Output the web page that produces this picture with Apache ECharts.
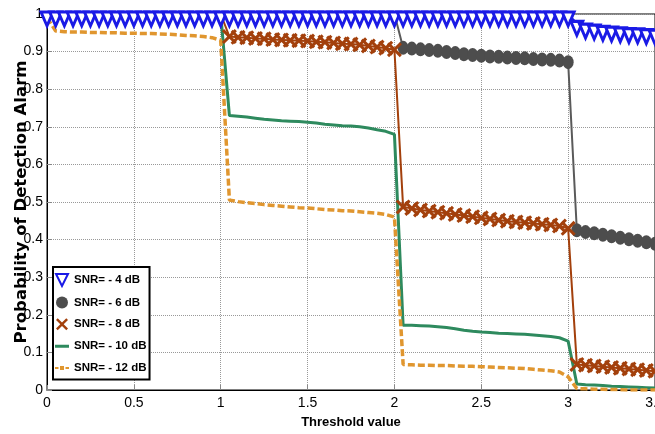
<!DOCTYPE html>
<html>
<head>
<meta charset="utf-8">
<script src="https://cdn.jsdelivr.net/npm/echarts@6/dist/echarts.min.js"></script>
<style>
  html, body { margin: 0; padding: 0; background: #fff; }
  #chart { width: 655px; height: 434px; }
</style>
</head>
<body>
<div id="chart"></div>
<script>
// threshold values on the x axis
var thresholds = [0, 0.05, 0.1, 0.15, 0.2, 0.25, 0.3, 0.35, 0.4, 0.45,
  0.5, 0.55, 0.6, 0.65, 0.7, 0.75, 0.8, 0.85, 0.9, 0.95,
  1, 1.05, 1.1, 1.15, 1.2, 1.25, 1.3, 1.35, 1.4, 1.45,
  1.5, 1.55, 1.6, 1.65, 1.7, 1.75, 1.8, 1.85, 1.9, 1.95,
  2, 2.05, 2.1, 2.15, 2.2, 2.25, 2.3, 2.35, 2.4, 2.45,
  2.5, 2.55, 2.6, 2.65, 2.7, 2.75, 2.8, 2.85, 2.9, 2.95,
  3, 3.05, 3.1, 3.15, 3.2, 3.25, 3.3, 3.35, 3.4, 3.45,
  3.5]

var snr4 = [1, 1, 1, 1, 1, 1, 1, 1, 1, 1,
  1, 1, 1, 1, 1, 1, 1, 1, 1, 1,
  1, 1, 1, 1, 1, 1, 1, 1, 1, 1,
  1, 1, 1, 1, 1, 1, 1, 1, 1, 1,
  1, 1, 1, 1, 1, 1, 1, 1, 1, 1,
  1, 1, 1, 1, 1, 1, 1, 1, 1, 1,
  1, 0.975, 0.968, 0.965, 0.962, 0.96, 0.958, 0.956, 0.955, 0.953,
  0.952]

var snr6 = [1, 1, 1, 1, 1, 1, 1, 1, 1, 1,
  1, 1, 1, 1, 1, 1, 1, 1, 1, 1,
  1, 1, 1, 1, 1, 1, 1, 1, 1, 1,
  1, 1, 1, 1, 1, 1, 1, 1, 1, 1,
  1, 0.91, 0.908, 0.906, 0.904, 0.902, 0.899, 0.896, 0.893, 0.891,
  0.889, 0.887, 0.886, 0.884, 0.883, 0.882, 0.88, 0.879, 0.878, 0.876,
  0.872, 0.425, 0.42, 0.417, 0.413, 0.409, 0.405, 0.401, 0.397, 0.393,
  0.389]

var snr8 = [1, 1, 1, 1, 1, 1, 1, 1, 1, 1,
  1, 1, 1, 1, 1, 1, 1, 1, 1, 1,
  1, 0.94, 0.938, 0.937, 0.935, 0.934, 0.932, 0.931, 0.93, 0.929,
  0.928, 0.926, 0.925, 0.923, 0.921, 0.92, 0.918, 0.915, 0.912, 0.909,
  0.905, 0.487, 0.483, 0.479, 0.476, 0.473, 0.47, 0.467, 0.464, 0.461,
  0.458, 0.455, 0.452, 0.449, 0.447, 0.445, 0.443, 0.441, 0.439, 0.436,
  0.43, 0.068, 0.066, 0.064, 0.062, 0.06, 0.058, 0.056, 0.054, 0.052,
  0.05]

var snr10 = [1, 1, 1, 1, 1, 1, 1, 1, 1, 1,
  1, 1, 1, 1, 1, 1, 1, 1, 1, 1,
  1, 0.73, 0.728, 0.726, 0.723, 0.72, 0.718, 0.716, 0.715, 0.714,
  0.712, 0.71, 0.707, 0.705, 0.703, 0.702, 0.7, 0.697, 0.692, 0.688,
  0.68, 0.172, 0.172, 0.171, 0.17, 0.168, 0.166, 0.163, 0.159, 0.156,
  0.154, 0.153, 0.151, 0.15, 0.149, 0.148, 0.146, 0.144, 0.142, 0.139,
  0.13, 0.016, 0.014, 0.013, 0.012, 0.01, 0.009, 0.008, 0.007, 0.006,
  0.005]

var snr12 = [0.99, 0.955, 0.953, 0.952, 0.952, 0.951, 0.951, 0.95, 0.95, 0.949,
  0.949, 0.948, 0.948, 0.947, 0.946, 0.945, 0.943, 0.942, 0.94, 0.937,
  0.93, 0.505, 0.501, 0.498, 0.496, 0.493, 0.491, 0.489, 0.487, 0.485,
  0.484, 0.482, 0.48, 0.479, 0.477, 0.476, 0.474, 0.472, 0.47, 0.467,
  0.46, 0.068, 0.067, 0.066, 0.066, 0.065, 0.065, 0.064, 0.063, 0.063,
  0.062, 0.061, 0.06, 0.059, 0.058, 0.057, 0.055, 0.053, 0.051, 0.048,
  0.035, 0.004, 0.003, 0.002, 0.002, 0.001, 0.001, 0, 0, 0,
  0]

var seriesNames = ['SNR= - 4 dB', 'SNR= - 6 dB', 'SNR= - 8 dB', 'SNR= - 10 dB', 'SNR= - 12 dB']

var narrow = '"Liberation Sans Narrow", "Liberation Sans", Arial, sans-serif'
var crossPath = 'path://M0,2L2,0L7,5L12,0L14,2L9,7L14,12L12,14L7,9L2,14L0,12L5,7Z'
var triPath = 'path://M0,0L12,0L6,12Z'
// legend glyphs: tiny corner specks keep the bounding box at 14x12 so the bars are not stretched
var greenIcon = 'path://M0,0L0.1,0L0,0.1Z M0,5L14,5L14,8L0,8Z M14,12L13.9,12L14,11.9Z'
var orangeIcon = 'path://M0,0L0.1,0L0,0.1Z M0,5.5L3.5,5.5L3.5,7.5L0,7.5Z M5,4.5L9,4.5L9,8.5L5,8.5Z M10.5,5.5L14,5.5L14,7.5L10.5,7.5Z M14,12L13.9,12L14,11.9Z'

function pairs(ys) {
  return thresholds.map(function (x, i) { return [x, ys[i]] })
}

// markers sitting on the p=1 line are hidden under the -4 dB triangles
function hideAtOne(sym) {
  return function (v) { return v[1] >= 1 ? 'none' : sym }
}

var chart = echarts.init(document.getElementById('chart'))

chart.setOption({
  backgroundColor: '#fff',
  animation: false,
  grid: {
    left: 47,
    right: 0,
    top: 14,
    bottom: 44,
    containLabel: false,
    outerBoundsMode: 'none',
    show: true,
    borderColor: '#000',
    borderWidth: 1
  },
  legend: {
    orient: 'vertical',
    left: 53,
    top: 267,
    backgroundColor: '#fff',
    borderColor: '#000',
    borderWidth: 2,
    borderRadius: 0,
    padding: [6, 3, 6, 2],
    itemWidth: 14,
    itemHeight: 12,
    itemGap: 9.6,
    textStyle: { fontFamily: narrow, fontWeight: 'bold', fontSize: 11.5, color: '#000' },
    data: [
      { name: seriesNames[0], icon: triPath },
      { name: seriesNames[1], icon: 'circle' },
      { name: seriesNames[2], icon: crossPath },
      { name: seriesNames[3], icon: greenIcon },
      { name: seriesNames[4], icon: orangeIcon }
    ]
  },
  xAxis: {
    type: 'value',
    min: 0,
    max: 3.5,
    interval: 0.5,
    name: 'Threshold value',
    nameLocation: 'middle',
    nameGap: 26,
    nameMoveOverlap: false,
    nameTextStyle: { fontFamily: narrow, fontWeight: 'bold', fontSize: 13, color: '#000' },
    axisLine: { lineStyle: { color: '#000', width: 1 } },
    axisTick: { inside: true, length: 5, lineStyle: { color: '#888' } },
    axisLabel: { fontFamily: narrow, fontSize: 14, color: '#000', margin: 6 },
    splitLine: { show: true, lineStyle: { color: '#999', type: 'dotted', width: 1 } }
  },
  yAxis: {
    type: 'value',
    min: 0,
    max: 1,
    interval: 0.1,
    name: 'Probability of Detection Alarm',
    nameLocation: 'middle',
    nameGap: 17,
    nameMoveOverlap: false,
    nameTextStyle: { fontFamily: '"DejaVu Sans", sans-serif', fontWeight: 'bold', fontSize: 16.5, color: '#000' },
    axisLine: { lineStyle: { color: '#000', width: 1 } },
    axisTick: { inside: true, length: 5, lineStyle: { color: '#888' } },
    axisLabel: { fontFamily: narrow, fontSize: 14, color: '#000', margin: 4 },
    splitLine: { show: true, lineStyle: { color: '#999', type: 'dotted', width: 1 } }
  },
  series: [
    {
      name: seriesNames[1],
      type: 'line',
      data: pairs(snr6),
      symbol: hideAtOne('circle'),
      symbolSize: [11, 14],
      itemStyle: { color: '#4d4d4d' },
      lineStyle: { color: '#5a5a5a', width: 2 }
    },
    {
      name: seriesNames[2],
      type: 'line',
      data: pairs(snr8),
      symbol: hideAtOne(crossPath),
      symbolSize: 15,
      itemStyle: { color: '#a3400c' },
      lineStyle: { color: '#a3400c', width: 2 }
    },
    {
      name: seriesNames[3],
      type: 'line',
      data: pairs(snr10),
      symbol: 'none',
      itemStyle: { color: '#2e8a5e' },
      lineStyle: { color: '#2e8a5e', width: 3 }
    },
    {
      name: seriesNames[4],
      type: 'line',
      data: pairs(snr12),
      symbol: 'none',
      itemStyle: { color: '#e0962f' },
      lineStyle: { color: '#e0962f', width: 3.5, type: [7, 3] }
    },
    {
      name: seriesNames[0],
      type: 'line',
      data: pairs(snr4),
      symbol: triPath,
      symbolSize: [12, 14],
      symbolOffset: [0, 5],
      itemStyle: { color: '#fff', borderColor: '#1a1ae6', borderWidth: 3 },
      lineStyle: { color: '#1a1ae6', width: 2 }
    }
  ]
})
</script>
</body>
</html>
